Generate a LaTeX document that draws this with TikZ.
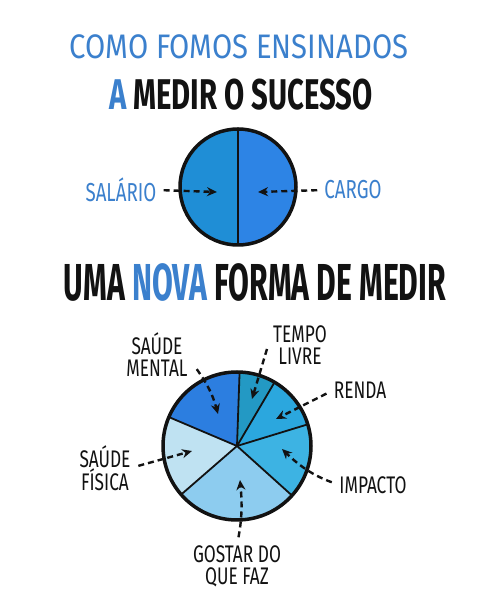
\documentclass[tikz,border=0pt]{standalone}
\usepackage{fontspec}
\usepackage{tikz}
\usetikzlibrary{arrows.meta, positioning, calc}
\newfontfamily\handfont[FakeStretch=0.72]{Fira Sans}
\newfontfamily\leadfont[FakeStretch=0.86]{Fira Sans}
\newfontfamily\subfont[FakeStretch=0.68]{Fira Sans}
\newfontfamily\headfont[FakeStretch=0.58]{Fira Sans}
\definecolor{ink}{HTML}{121212}
\definecolor{title}{HTML}{3B80CD}
\definecolor{halfl}{HTML}{1F8ED6}
\definecolor{halfr}{HTML}{2D84E5}
\definecolor{cmental}{HTML}{2C7EE0}
\definecolor{ctempo}{HTML}{2399C4}
\definecolor{crenda}{HTML}{2BA7DE}
\definecolor{cimpacto}{HTML}{3DB3E3}
\definecolor{cgostar}{HTML}{8DCCEF}
\definecolor{cfisica}{HTML}{BFE2F2}
\tikzset{
  >={Stealth[length=10pt, width=9pt]},
  %
  lbl/.style={font=\handfont\fontsize{24}{22}\selectfont, text=ink,
              inner sep=0pt, align=center},
  lbltop/.style={lbl, font=\handfont\fontsize{26}{26}\selectfont, text=title},
  head/.style={inner sep=0pt, text=ink},
  %
  ptr/.style={draw=ink, line width=2.4pt, dash pattern=on 6pt off 4pt, ->},
  rim/.style={draw=ink, line width=3.5pt},
  spoke/.style={draw=ink, line width=1.8pt},
}
\begin{document}
\begin{tikzpicture}[x=1pt, y=1pt]
  \useasboundingbox[fill=white] (0,0) rectangle (500,607);

  % --- headings ----------------------------------------------------------
  \node[head, text=title, font=\leadfont\fontsize{34}{34}\selectfont]
    (h1) at (239,560) {COMO FOMOS ENSINADOS};
  \node[head, font=\subfont\bfseries\fontsize{43}{43}\selectfont]
    (h2) at (241,512) {\textcolor{title}{A} MEDIR O SUCESSO};
  \node[head, font=\headfont\bfseries\fontsize{52}{52}\selectfont]
    (h3) at (255,325) {UMA \textcolor{title}{NOVA} FORMA DE MEDIR};

  % --- the old pie -------------------------------------------------------
  \def\r{58}
  \coordinate (old) at (238,420);
  \fill[halfl] (old) -- ++(90:\r) arc[start angle=90, end angle=270, radius=\r] -- cycle;
  \fill[halfr] (old) -- ++(-90:\r) arc[start angle=-90, end angle=90, radius=\r] -- cycle;
  \draw[spoke, line width=2pt] ($(old)+(90:\r)$) -- ($(old)+(-90:\r)$);
  \draw[rim] (old) circle[radius=\r];

  \node[lbltop] (salario) at (121,417) {SALÁRIO};
  \node[lbltop] (cargo)   at (353,417) {CARGO};
  \coordinate (salario-tip) at (217,415);
  \coordinate (cargo-tip)   at (258,415);
  \draw[ptr, shorten <=7pt] (salario.east) -- (salario-tip);
  \draw[ptr, shorten <=7pt] (cargo.west) -- (cargo-tip);

  % --- the new pie -------------------------------------------------------
  \def\R{74}
  \coordinate (pie) at (237,161);
  \foreach \a/\b/\c in {88/157/cmental, 59.5/88/ctempo, 17/59.5/crenda,
                        -42/17/cimpacto, 221/318/cgostar, 157/221/cfisica}
    \fill[\c] (pie) -- ++(\a:\R) arc[start angle=\a, end angle=\b, radius=\R] -- cycle;
  \foreach \a in {88, 59.5, 17, -42, 221, 157}
    \draw[spoke] (pie) -- ++(\a:\R);
  \draw[rim] (pie) circle[radius=\R];

  \node[lbl] (mental)  at (157,252) {SAÚDE\\MENTAL};
  \node[lbl] (tempo)   at (300,262) {TEMPO\\LIVRE};
  \node[lbl] (renda)   at (360,217) {RENDA};
  \node[lbl] (impacto) at (373,122) {IMPACTO};
  \node[lbl] (fisica)  at (105,139) {SAÚDE\\FÍSICA};
  \node[lbl] (gostar)  at (237,41)  {GOSTAR DO\\QUE FAZ};

  \coordinate (mental-tip)  at (218,193);
  \coordinate (tempo-tip)   at (252,208);
  \coordinate (renda-tip)   at (276,188);
  \coordinate (impacto-tip) at (282,158);
  \coordinate (fisica-tip)  at (192,156);
  \coordinate (gostar-tip)  at (240,127);

  \draw[ptr] ([shift={(9pt,8pt)}]mental.south east) to[bend left=10] (mental-tip);
  \draw[ptr] ([shift={(-6pt,-4pt)}]tempo.west) -- (tempo-tip);
  \draw[ptr, shorten <=8pt] (renda.west) -- (renda-tip);
  \draw[ptr, shorten <=8pt] (impacto.west) to[bend left=12] (impacto-tip);
  \draw[ptr, shorten <=8pt] (fisica.east) -- (fisica-tip);
  \draw[ptr, shorten <=8pt] (gostar.north) to[bend right=8] (gostar-tip);

\end{tikzpicture}
\end{document}
